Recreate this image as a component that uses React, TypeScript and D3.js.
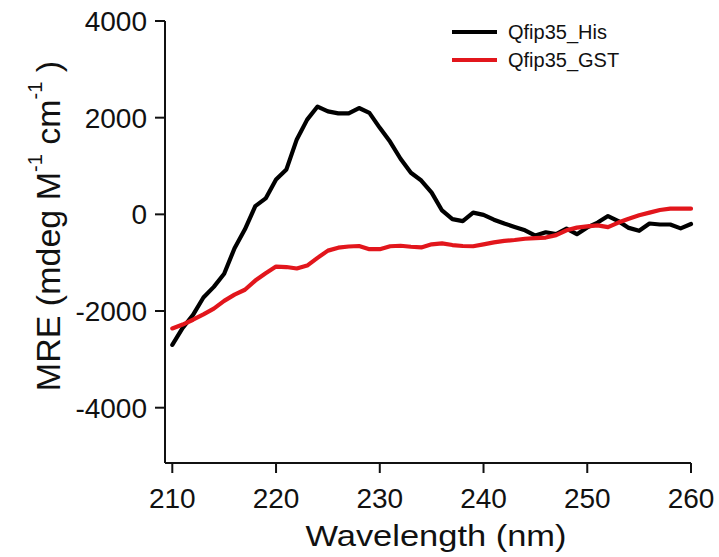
import React from "react";
import * as d3 from "d3";

const wavelengths: number[] = d3.range(210, 261, 1);

const hisValues: number[] = [
  -2700, -2350, -2080, -1720, -1500, -1230, -700, -310, 170, 330,
  720, 930, 1550, 1960, 2230, 2130, 2090, 2090, 2200, 2100,
  1790, 1500, 1150, 860, 700, 450, 80, -100, -140, 35,
  -10, -110, -190, -260, -330, -440, -370, -410, -295, -410,
  -270, -170, -35, -140, -280, -340, -190, -210, -210, -290,
  -200,
];

const gstValues: number[] = [
  -2360, -2280, -2180, -2070, -1950, -1790, -1660, -1560, -1370, -1220,
  -1080, -1090, -1120, -1060, -900, -750, -690, -665, -655, -720,
  -720, -660, -650, -670, -685, -620, -600, -635, -655, -660,
  -620, -580, -550, -530, -505, -490, -480, -430, -330, -274,
  -250, -227, -265, -170, -90, -20, 35, 90, 117, 117,
  117,
];

const xTicks: number[] = [210, 220, 230, 240, 250, 260];
const yTicks: number[] = [4000, 2000, 0, -2000, -4000];

const seriesNames: string[] = ["Qfip35_His", "Qfip35_GST"];
const seriesColors: string[] = ["#000000", "#e2161c"];

const W = 719;
const H = 557;
const axisX = 165;
const axisY = 463;
const axisTop = 21;
const axisRight = 691;

export default function App() {
  const x = d3.scaleLinear().domain([210, 260]).range([172.3, 691]);
  const y = d3.scaleLinear().domain([-4000, 4000]).range([407.7, 21]);

  const line = d3
    .line<[number, number]>()
    .x((d) => x(d[0]))
    .y((d) => y(d[1]));

  const series = [hisValues, gstValues].map((vals) =>
    wavelengths.map((w, i) => [w, vals[i]] as [number, number])
  );

  const font = "'Liberation Sans', Arial, sans-serif";

  return (
    <svg
      width={W}
      height={H}
      style={{ position: "absolute", left: 0, top: 0, background: "#fff" }}
      fontFamily={font}
    >
      <rect x={0} y={0} width={W} height={H} fill="#fff" />
      {series.map((s, i) => (
        <path
          key={i}
          d={line(s) || ""}
          fill="none"
          stroke={seriesColors[i]}
          strokeWidth={4.2}
          strokeLinejoin="round"
          strokeLinecap="round"
        />
      ))}
      <line x1={axisX} x2={axisX} y1={axisTop} y2={axisY} stroke="#111" strokeWidth={2} />
      <line x1={axisX} x2={axisRight} y1={axisY} y2={axisY} stroke="#111" strokeWidth={2} />
      {yTicks.map((t) => (
        <g key={"y" + t}>
          <line x1={axisX - 10} x2={axisX} y1={y(t)} y2={y(t)} stroke="#111" strokeWidth={2} />
          <text
            x={147}
            y={y(t)}
            dy="0.36em"
            textAnchor="end"
            fontSize={28}
            fill="#111"
          >
            {t}
          </text>
        </g>
      ))}
      {xTicks.map((t) => (
        <g key={"x" + t}>
          <line x1={x(t)} x2={x(t)} y1={axisY} y2={axisY + 10} stroke="#111" strokeWidth={2} />
          <text x={x(t)} y={508} textAnchor="middle" fontSize={28} fill="#111">
            {t}
          </text>
        </g>
      ))}
      <text
        x={436}
        y={546}
        textAnchor="middle"
        fontSize={30}
        fill="#111"
        textLength={261}
        lengthAdjust="spacingAndGlyphs"
      >
        Wavelength (nm)
      </text>
      <text
        transform={`translate(60,226) rotate(-90)`}
        textAnchor="middle"
        fontSize={34}
        fill="#111"
      >
        <tspan>MRE (mdeg M</tspan>
        <tspan fontSize={20} dy={-18}>-1</tspan>
        <tspan dy={18}> cm</tspan>
        <tspan fontSize={20} dy={-18}>-1</tspan>
        <tspan dy={18}> )</tspan>
      </text>
      {seriesNames.map((n, i) => (
        <g key={n}>
          <line
            x1={452}
            x2={497}
            y1={32 + i * 28}
            y2={32 + i * 28}
            stroke={seriesColors[i]}
            strokeWidth={4}
          />
          <text x={508} y={32 + i * 28} dy="0.36em" fontSize={20} fill="#111">
            {n}
          </text>
        </g>
      ))}
    </svg>
  );
}
